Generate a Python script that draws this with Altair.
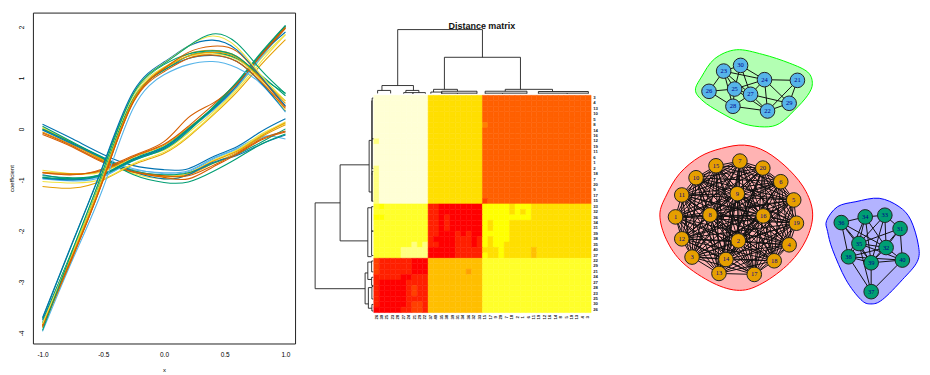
import itertools
import altair as alt
import pandas as pd

FONT = "Liberation Sans"
# ---------- panel 1: coefficient curves ----------
XS = [-1, -0.75, -0.5, -0.25, 0, 0.2, 0.4, 0.6, 0.8, 1]
OK = dict(o="#E69F00", s="#56B4E9", g="#009E73", y="#F0E442", b="#0072B2", v="#D55E00")
curves_peak = [
    ("s", [-3.97, -2.55, -1.15, 0.42, 1.06, 1.26, 1.32, 1.20, 0.88, 0.33]),
    ("b", [-3.75, -2.38, -0.90, 0.58, 1.16, 1.38, 1.44, 1.32, 0.90, 0.35]),
    ("y", [-3.84, -2.42, -0.90, 0.62, 1.21, 1.42, 1.47, 1.36, 0.95, 0.36]),
    ("o", [-3.90, -2.50, -0.98, 0.56, 1.20, 1.47, 1.54, 1.42, 1.00, 0.50]),
    ("g", [-3.80, -2.35, -0.85, 0.60, 1.15, 1.43, 1.50, 1.38, 1.05, 0.65]),
    ("o", [-3.85, -2.45, -0.95, 0.58, 1.18, 1.43, 1.50, 1.40, 0.98, 0.55]),
    ("g", [-3.72, -2.22, -0.72, 0.68, 1.26, 1.47, 1.53, 1.42, 1.02, 0.70]),
    ("v", [-3.86, -2.48, -1.00, 0.53, 1.12, 1.38, 1.45, 1.32, 0.92, 0.40]),
    ("v", [-3.88, -2.50, -1.00, 0.54, 1.18, 1.50, 1.62, 1.52, 1.00, 0.43]),
    ("b", [-3.70, -2.20, -0.70, 0.74, 1.31, 1.62, 1.74, 1.55, 1.02, 0.45]),
    ("y", [-3.82, -2.38, -0.82, 0.68, 1.29, 1.62, 1.82, 1.60, 1.05, 0.55]),
    ("g", [-3.95, -2.36, -0.80, 0.70, 1.28, 1.62, 1.86, 1.68, 1.15, 0.69]),
]
curves_rise = [
    ("o", [-1.13, -1.16, -1.00, -0.70, -0.48, -0.16, 0.26, 0.72, 1.26, 1.75]),
    ("y", [-1.03, -1.06, -0.98, -0.68, -0.46, -0.14, 0.28, 0.76, 1.32, 1.85]),
    ("y", [-0.81, -0.88, -0.84, -0.58, -0.42, -0.08, 0.32, 0.80, 1.38, 1.85]),
    ("s", [-0.96, -1.00, -0.92, -0.62, -0.38, -0.03, 0.36, 0.84, 1.42, 2.00]),
    ("s", [-0.98, -1.02, -0.94, -0.62, -0.40, -0.02, 0.36, 0.82, 1.40, 1.98]),
    ("o", [-0.85, -0.88, -0.82, -0.55, -0.32, 0.02, 0.40, 0.88, 1.44, 1.98]),
    ("b", [-0.90, -0.98, -0.88, -0.60, -0.38, -0.02, 0.38, 0.85, 1.45, 1.90]),
    ("v", [-0.86, -0.89, -0.80, -0.54, -0.30, 0.05, 0.46, 0.90, 1.44, 1.97]),
    ("b", [-0.96, -1.00, -0.90, -0.60, -0.36, 0.00, 0.40, 0.88, 1.46, 2.02]),
    ("g", [-0.92, -0.96, -0.88, -0.58, -0.35, 0.00, 0.40, 0.90, 1.48, 2.02]),
    ("v", [-0.86, -0.90, -0.78, -0.52, -0.25, 0.22, 0.50, 0.88, 1.45, 2.00]),
    ("g", [-0.95, -0.98, -0.90, -0.62, -0.40, -0.05, 0.42, 0.92, 1.50, 2.03]),
]
curves_dip = [
    ("s", [-0.02, -0.30, -0.60, -0.80, -0.86, -0.82, -0.58, -0.38, -0.15, -0.20]),
    ("s", [-0.01, -0.28, -0.56, -0.78, -0.88, -0.84, -0.60, -0.40, -0.18, -0.05]),
    ("y", [0.02, -0.27, -0.60, -0.86, -0.93, -0.86, -0.64, -0.42, -0.10, 0.10]),
    ("y", [0.03, -0.30, -0.62, -0.88, -0.98, -0.90, -0.62, -0.42, -0.12, 0.14]),
    ("o", [0.00, -0.28, -0.62, -0.84, -0.94, -0.88, -0.64, -0.44, -0.14, 0.12]),
    ("o", [-0.06, -0.32, -0.60, -0.82, -0.92, -0.90, -0.68, -0.46, -0.16, 0.08]),
    ("g", [0.00, -0.28, -0.56, -0.82, -0.90, -0.86, -0.68, -0.50, -0.26, 0.00]),
    ("b", [-0.02, -0.30, -0.58, -0.84, -0.98, -0.90, -0.66, -0.52, -0.30, -0.12]),
    ("v", [-0.08, -0.34, -0.64, -0.84, -0.92, -0.92, -0.72, -0.48, -0.20, -0.04]),
    ("v", [-0.11, -0.36, -0.66, -0.85, -0.95, -0.98, -0.75, -0.50, -0.22, -0.06]),
    ("g", [0.05, -0.26, -0.58, -0.90, -1.05, -1.04, -0.84, -0.58, -0.30, -0.10]),
    ("b", [0.09, -0.20, -0.50, -0.72, -0.80, -0.78, -0.55, -0.35, -0.05, 0.20]),
]
rows = []
for n, (c, vals) in enumerate(curves_dip + curves_rise + curves_peak):
    for x, v in zip(XS, vals):
        rows.append(dict(id=n, x=x, y=v, c=OK[c]))
df_curves = pd.DataFrame(rows)

lines = alt.Chart(df_curves).mark_line(interpolate="natural", strokeWidth=1.1, clip=True).encode(
    x=alt.X("x:Q", scale=alt.Scale(domain=[-1.079, 1.079], nice=False, zero=False),
            axis=alt.Axis(values=[-1, -0.5, 0, 0.5, 1], grid=False, domain=False, ticks=False,
                          labelExpr="replace(format(datum.value,'.1f'),'\u2212','-')",
                          labelFont=FONT, labelFontSize=6.5, labelPadding=8, labelColor="#000",
                          title="x", titleFont=FONT, titleFontSize=6, titleFontWeight="normal",
                          titlePadding=9, titleColor="#000")),
    y=alt.Y("y:Q", scale=alt.Scale(domain=[-4.207, 2.28], nice=False, zero=False),
            axis=alt.Axis(values=[-4, -3, -2, -1, 0, 1, 2], grid=False, domain=False, ticks=False,
                          labelExpr="replace(format(datum.value,'d'),'\u2212','-')",
                          labelAngle=270, labelAlign="center", labelBaseline="middle",
                          labelFont=FONT, labelFontSize=6.5, labelPadding=11, labelColor="#000",
                          title="coefficient", titleFont=FONT, titleFontSize=6,
                          titleFontWeight="normal", titlePadding=4, titleColor="#000")),
    color=alt.Color("c:N", scale=None),
    detail="id:N",
).properties(width=263, height=332, view=alt.ViewConfig(stroke="#222", strokeWidth=1))

# ---------- panel 2: distance matrix ----------
row_labels = [3, 4, 13, 10, 5, 8, 14, 16, 12, 19, 11, 6, 1, 2, 18, 7, 20, 9, 17, 15,
              33, 32, 36, 34, 31, 39, 38, 35, 40, 37,
              22, 29, 21, 24, 27, 28, 23, 25, 30, 26]
col_labels = row_labels[::-1]
HEAT = ["#FF0000", "#FF2000", "#FF4000", "#FF6000", "#FF8000", "#FF9F00",
        "#FFBF00", "#FFDF00", "#FFFF00", "#FFFF2A", "#FFFF80", "#FFFFD5"]
block_levels = {(0, 0): 11, (0, 1): 7, (0, 2): 3,
                (1, 0): 9, (1, 1): 0, (1, 2): 7,
                (2, 0): 1, (2, 1): 6, (2, 2): 9}
level_exceptions = {
    10: [(8, [0]), (13, [0]), (14, [0]), (15, [0]), (16, [0]), (17, [0]), (18, [0]), (19, [0]),
         (27, [7, 9]), (28, [5, 6, 7, 8, 9]), (29, [5, 6, 7, 8, 9])],
    8: [(20, [1, 20, 21, 22, 23, 24, 26, 27, 28]), (21, [20, 21, 22, 23, 24, 26, 28]),
        (22, [0, 1, 20, 21, 22, 23, 24, 25, 26, 27, 28]), (23, [20, 22, 23, 24]),
        (24, [20, 22, 23, 24]), (25, [20, 21, 22, 23, 24]), (26, [20, 22, 23, 24]),
        (27, [20, 22, 23]), (28, [23]), (29, [20, 23])],
    4: [(5, [20])],
    2: [(19, [20]), (30, [0]), (31, [0]), (32, [0]), (35, [7]), (36, [7]), (38, [7, 8]), (39, [7, 8])],
    1: [(20, [10, 11]), (21, [10, 11]), (22, [10, 11, 13]), (23, [10, 11, 13]), (24, [10, 11, 13]),
        (25, [10, 11, 15, 17]), (26, [10, 15, 16, 17, 19]), (27, [10, 11, 15, 16, 17, 19]),
        (28, [15, 16, 17, 18, 19]), (29, [15, 16, 17, 18, 19])],
    0: [(30, [7, 8, 9]), (31, [7, 8, 9]), (32, [7, 8, 9]), (33, [5, 6]),
        (34, [1, 2, 3, 4, 5]), (35, [1, 2, 3, 4, 5]), (36, [1, 2, 3, 4, 5]),
        (37, [1, 2, 3, 4, 5]), (38, [1, 2, 3, 4, 5]), (39, [0, 1, 2, 3, 4])],
    5: [(32, [17])],
    6: [(28, [29]), (29, [29])],
}
def block(i):
    return 0 if i < 20 else (1 if i < 30 else 2)
def col_block(j):
    return 0 if j < 10 else (1 if j < 20 else 2)
grid = [[block_levels[(block(r), col_block(c))] for c in range(40)] for r in range(40)]
for lev, items in level_exceptions.items():
    for r, cols in items:
        for c in cols:
            grid[r][c] = lev
cells = [dict(x=c, x2=c + 1, y=r, y2=r + 1, level=grid[r][c]) for r in range(40) for c in range(40)]
df_cells = pd.DataFrame(cells)

X2 = alt.X("x:Q", scale=alt.Scale(domain=[-10.826, 45.69], nice=False, zero=False), axis=None)
Y2 = alt.Y("y:Q", scale=alt.Scale(domain=[45.69, -15.23], nice=False, zero=False), axis=None)
LEVEL_SCALE = alt.Scale(domain=list(range(12)), range=HEAT)
heat = alt.Chart(df_cells).mark_rect(strokeWidth=0.5).encode(
    x=X2, x2="x2:Q", y=Y2, y2="y2:Q",
    color=alt.Color("level:O", scale=LEVEL_SCALE, legend=None),
    stroke=alt.Stroke("level:O", scale=LEVEL_SCALE, legend=None),
)
# merges: position a, position b, height of a, height of b, height of the join
top_merges = [
    (4.4, 20.0, 1.8, 7.0, 12.1), (13.0, 27.0, 1.1, 1.1, 7.0), (1.5, 7.3, 0.9, 0.9, 1.8),
    (0.7, 3.1, 0.35, 0.35, 0.9), (5.9, 8.3, 0.5, 0.5, 0.9), (5.5, 7.2, 0.3, 0.3, 0.5),
    (7.2, 9.5, 0.3, 0.3, 0.5), (11.0, 15.4, 0.6, 0.75, 1.1), (10.5, 12.5, 0.3, 0.3, 0.6),
    (12.5, 19.0, 0.4, 0.4, 0.75), (12.5, 15.4, 0.3, 0.3, 0.4), (15.4, 19.0, 0.3, 0.3, 0.4),
    (24.2, 32.9, 0.75, 0.7, 1.1), (20.5, 28.2, 0.4, 0.4, 0.75), (20.5, 23.7, 0.3, 0.3, 0.4),
    (23.7, 28.2, 0.3, 0.3, 0.4), (30.3, 39.5, 0.4, 0.4, 0.7), (30.3, 35.6, 0.3, 0.3, 0.4),
    (35.6, 39.5, 0.3, 0.3, 0.4),
]
left_merges = [
    (19.8, 35.6, 6.2, 1.6, 10.8), (12.8, 26.8, 0.86, 1.1, 6.2), (32.7, 38.4, 1.1, 1.0, 1.6),
    (8.3, 17.8, 0.37, 0.37, 0.86), (1.0, 14.5, 0.3, 0.3, 0.37), (14.5, 19.5, 0.3, 0.3, 0.37),
    (0.5, 8.0, 0.1, 0.1, 0.3), (8.0, 13.5, 0.1, 0.1, 0.3), (14.0, 19.5, 0.1, 0.1, 0.3),
    (20.7, 29.7, 0.4, 0.4, 1.1), (20.5, 25.0, 0.1, 0.1, 0.4), (25.0, 29.5, 0.1, 0.1, 0.4),
    (30.7, 33.9, 0.4, 0.4, 1.1), (30.5, 32.5, 0.1, 0.1, 0.4), (33.5, 35.0, 0.1, 0.1, 0.4),
    (35.4, 39.2, 0.35, 0.35, 1.0), (35.2, 37.5, 0.1, 0.1, 0.35), (38.5, 39.7, 0.1, 0.1, 0.35),
]
segs = []
for a, b, ha, hb, h in top_merges:
    segs += [dict(x=a, x2=b, y=-h, y2=-h), dict(x=a, x2=a, y=-h, y2=-ha), dict(x=b, x2=b, y=-h, y2=-hb)]
for a, b, ha, hb, h in left_merges:
    segs += [dict(y=a, y2=b, x=-h, x2=-h), dict(y=a, y2=a, x=-h, x2=-ha), dict(y=b, y2=b, x=-h, x2=-hb)]
dendro = alt.Chart(pd.DataFrame(segs)).mark_rule(stroke="#222", strokeWidth=0.9).encode(
    x=X2, x2="x2:Q", y=Y2, y2="y2:Q")
df_rl = pd.DataFrame(dict(y=[i + 0.5 for i in range(40)], x=[40.4] * 40, t=[str(v) for v in row_labels]))
df_cl = pd.DataFrame(dict(x=[i + 0.5 for i in range(40)], y=[40.85] * 40, t=[str(v) for v in col_labels]))
rl = alt.Chart(df_rl).mark_text(font=FONT, fontSize=4.3, fontWeight="bold", align="left", color="#222").encode(
    x=X2, y=Y2, text="t:N")
cl = alt.Chart(df_cl).mark_text(font=FONT, fontSize=4.3, fontWeight="bold", angle=270, color="#222").encode(
    x=X2, y=Y2, text="t:N")
ttl = alt.Chart(pd.DataFrame(dict(x=[19.9], y=[-12.8], t=["Distance matrix"]))).mark_text(
    font=FONT, fontSize=9, fontWeight="bold", color="#111").encode(x=X2, y=Y2, text="t:N")
panel2 = alt.layer(heat, dendro, rl, cl, ttl).properties(width=308, height=332)

# ---------- panel 3: communities ----------
nodes = {
    30: (741, 65), 23: (724, 70.7), 24: (765, 79.3), 21: (798, 80), 26: (709.3, 91),
    25: (735, 88.7), 27: (751, 94), 29: (789.7, 103), 28: (733.3, 106), 22: (768, 110.7),
    15: (716.3, 165.7), 7: (740.3, 161), 20: (763.3, 168), 10: (696.3, 177.7), 6: (781.3, 181.7),
    11: (682, 195), 9: (737.7, 193.7), 5: (794.3, 200), 1: (675.7, 217), 8: (710.3, 215),
    16: (763.7, 216), 19: (797, 223.3), 12: (682, 239), 2: (738.7, 241), 4: (789.7, 245),
    3: (692.3, 257.3), 14: (726.3, 259.7), 18: (774.7, 261), 13: (719.3, 273.7), 17: (754.7, 274.7),
    36: (842, 222.7), 34: (866, 217), 33: (885.7, 215.3), 31: (901, 228.7), 35: (859.7, 243.7),
    32: (887, 247.7), 38: (849.3, 257), 39: (872, 263), 40: (903.3, 260.3), 37: (872, 292),
}
edges_green = [(30, 23), (30, 25), (30, 24), (30, 27), (23, 26), (23, 25), (23, 28), (23, 24), (26, 25),
               (26, 28), (25, 27), (25, 28), (25, 24), (27, 24), (27, 28), (27, 22), (24, 21), (24, 22),
               (24, 29), (21, 29), (21, 22), (29, 22), (28, 22), (25, 22), (27, 29), (23, 27)]
edges_blue = [(36, 34), (36, 35), (36, 38), (36, 32), (36, 39), (34, 33), (34, 35), (34, 32), (34, 39),
              (34, 38), (33, 31), (33, 35), (33, 32), (33, 39), (31, 32), (31, 35), (31, 39), (31, 40),
              (35, 32), (35, 38), (35, 39), (35, 40), (32, 38), (32, 39), (32, 40), (38, 39), (38, 40),
              (38, 37), (39, 40), (39, 37), (40, 37), (35, 37)]
edges_red = list(itertools.combinations(range(1, 21), 2))
hull_green = [(695.7, 90), (701.7, 76.7), (715, 58.3), (736.7, 49.3), (763.3, 54), (790, 62.7), (808.3, 71.7),
              (813, 83.3), (808.3, 95), (795, 110), (780, 123.3), (765, 126.7), (743.3, 123.3),
              (720, 111.7), (703.3, 100.7)]
hull_red = [(660, 215), (666.7, 195), (680, 173.3), (700, 156.7), (721.7, 148.3), (745, 145), (766.7, 151.7),
            (790, 170), (806.7, 191.7), (813.3, 215), (806.7, 240), (790, 263.3), (763.3, 283.3),
            (740, 290.7), (713.3, 283.3), (683.3, 263.3), (666.7, 240)]
hull_blue = [(827.3, 220.7), (838.3, 206.7), (856.7, 201.7), (880, 198.3), (900, 206.7), (911.7, 220),
             (919.3, 245), (918.3, 261.7), (903.3, 280), (883.3, 300), (871.7, 304.3), (861.7, 300),
             (846.7, 280), (833.3, 250), (828.3, 231.7)]

X3 = alt.X("x:Q", scale=alt.Scale(domain=[640, 922], nice=False, zero=False), axis=None)
Y3 = alt.Y("y:Q", scale=alt.Scale(domain=[344, 12], nice=False, zero=False), axis=None)
hull_layers = []
for pts, fill, stroke in [(hull_green, "#B3FFB3", "#00FF00"), (hull_red, "#FFB3B3", "#FF0000"),
                          (hull_blue, "#B3B3FF", "#0000FF")]:
    d = pd.DataFrame([dict(i=i, x=p[0], y=p[1]) for i, p in enumerate(pts)])
    hull_layers.append(alt.Chart(d).mark_line(interpolate="cardinal-closed", fill=fill, stroke=stroke,
                                              strokeWidth=1).encode(x=X3, y=Y3, order="i:Q"))
e_rows = []
for a, b in edges_green + edges_blue + edges_red:
    e_rows.append(dict(x=nodes[a][0], y=nodes[a][1], x2=nodes[b][0], y2=nodes[b][1]))
edge_layer = alt.Chart(pd.DataFrame(e_rows)).mark_rule(stroke="#111", strokeWidth=1).encode(
    x=X3, x2="x2:Q", y=Y3, y2="y2:Q")
n_rows = []
for k, (x, y) in nodes.items():
    col = "#56B4E9" if 21 <= k <= 30 else ("#E69F00" if k <= 20 else "#009E73")
    n_rows.append(dict(x=x, y=y, t=str(k), c=col))
df_n = pd.DataFrame(n_rows)
node_layer = alt.Chart(df_n).mark_point(filled=True, size=215, stroke="#222", strokeWidth=1, opacity=1).encode(
    x=X3, y=Y3, fill=alt.Fill("c:N", scale=None))
lab_layer = alt.Chart(df_n).mark_text(font="Liberation Serif", fontSize=6.5, color="#00008B").encode(
    x=X3, y=Y3, text="t:N")
panel3 = alt.layer(*hull_layers, edge_layer, node_layer, lab_layer).properties(width=282, height=332)

chart = alt.hconcat(lines, panel2, panel3, spacing=18).properties(
    padding={"left": 0, "top": 3, "right": 0, "bottom": 0}
).configure_view(stroke=None)
chart.save("out.html", embed_options={"renderer": "svg", "actions": False})
